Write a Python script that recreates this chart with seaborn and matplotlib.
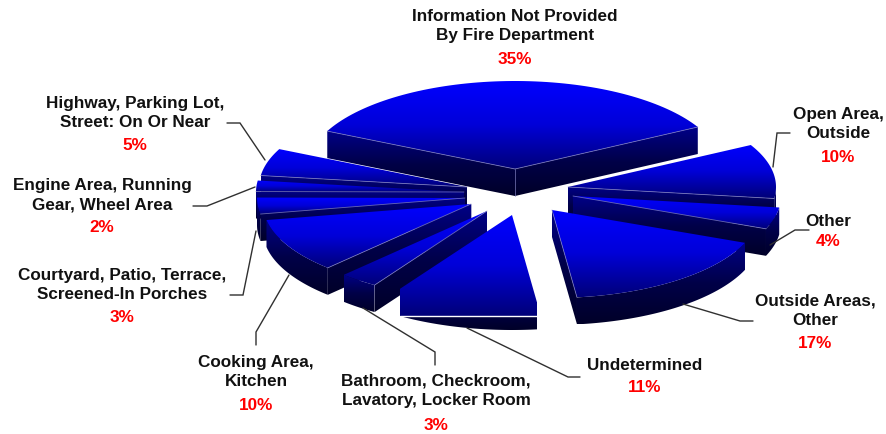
import numpy as np
import matplotlib
matplotlib.use('Agg')
import matplotlib.pyplot as plt
from matplotlib.patches import Polygon
import seaborn as sns

# chart data, clockwise from the big slice
categories = ['Information Not Provided\nBy Fire Department', 'Open Area,\nOutside', 'Other',
              'Outside Areas,\nOther', 'Undetermined', 'Bathroom, Checkroom,\nLavatory, Locker Room',
              'Cooking Area,\nKitchen', 'Courtyard, Patio, Terrace,\nScreened-In Porches',
              'Engine Area, Running\nGear, Wheel Area', 'Highway, Parking Lot,\nStreet: On Or Near']
values = [35, 10, 4, 17, 11, 3, 10, 3, 2, 5]

# layout, in pixels of the 887x434 picture
start_angle = -64.5
rx, ry, depth = 208, 88, 27
center = (515, 192)
explode = [(0, -23), (53, -5), (58, 4), (37, 18), (-3, 23), (-28, 19), (-44, 12), (-50, 6), (-51, 0), (-48, -5)]
draw_order = [0, 9, 1, 8, 2, 7, 6, 3, 5, 4]
label_pos = [(515, 26), (838, 124), (828, 221), (815, 311), (645, 365), (436, 391), (256, 372), (122, 285), (102, 195), (135, 113)]
pct_pos = [(515, 59), (838, 157), (828, 241), (815, 344), (645, 388), (436, 425), (256, 405), (122, 318), (102, 228), (135, 146)]
leaders = [None,
           [(790, 133), (777, 133), (773, 167)],
           [(809, 230), (795, 230), (770, 245)],
           [(753, 321), (740, 321), (683, 304)],
           [(580, 377), (568, 377), (467, 328)],
           [(435, 365), (435, 352), (363, 308)],
           [(256, 345), (256, 332), (289, 275)],
           [(230, 295), (243, 295), (256, 231)],
           [(193, 206), (207, 206), (255, 187)],
           [(227, 123), (240, 123), (265, 160)]]
flat_slice, flat_y = 4, 316

sns.set_theme(style='white')
plt.rcParams['font.family'] = ['Liberation Sans', 'DejaVu Sans']

top_cmap = sns.blend_palette(['#0000ff', '#0000d8', '#000078'], as_cmap=True)
wall_cmap = sns.blend_palette(['#000088', '#000048', '#000028'], as_cmap=True)

fig, ax = plt.subplots(figsize=(8.87, 4.34), dpi=100)
fig.subplots_adjust(left=0, right=1, top=1, bottom=0)
ax.set_xlim(0, 887)
ax.set_ylim(434, 0)
ax.axis('off')


def rim(apex, angles):
    t = np.radians(angles)
    return np.column_stack([apex[0] + rx * np.sin(t), apex[1] - ry * np.cos(t)])


def fill(points, cmap):
    poly = Polygon(points, closed=True, fc='none', ec='none', transform=ax.transData)
    ax.add_patch(poly)
    x0, x1 = points[:, 0].min(), points[:, 0].max()
    y0, y1 = points[:, 1].min(), points[:, 1].max()
    img = ax.imshow(np.linspace(0, 1, 128).reshape(-1, 1), cmap=cmap, vmin=0, vmax=1, aspect='auto',
                    extent=(x0, x1, y1, y0), interpolation='bilinear', zorder=z[0])
    img.set_clip_path(poly)
    z[0] += 1


def extrude(points):
    return np.vstack([points, points[::-1] + (0, depth)])


z = [2]
edges = np.cumsum([0] + values) * 3.6 + start_angle
for i in draw_order:
    a, b = edges[i], edges[i + 1]
    apex = np.array([center[0] + explode[i][0], center[1] + explode[i][1]], dtype=float)
    arc = rim(apex, np.linspace(a, b, 80))

    # radial walls that face the viewer, then the front of the rim
    if np.sin(np.radians(a)) < 0:
        fill(extrude(np.array([apex, arc[0]])), wall_cmap)
    if np.sin(np.radians(b)) > 0:
        fill(extrude(np.array([apex, arc[-1]])), wall_cmap)
    lo, hi = max(a, 90), min(b, 270)
    if lo < hi:
        fill(extrude(rim(apex, np.linspace(lo, hi, 80))), wall_cmap)

    top = np.vstack([apex, arc])
    if i == flat_slice:
        # this slice's top colour runs down past the rim to a straight edge
        top = np.vstack([apex, arc[0], (arc[0, 0], flat_y), (arc[-1, 0], flat_y), arc[-1]])
        ax.plot([arc[-1, 0], arc[0, 0]], [flat_y, flat_y], color='white', lw=1, zorder=50)
    fill(top, top_cmap)

    # thin pale lines where top meets wall
    line_kw = dict(color='#8080c0', lw=0.6, alpha=0.8, zorder=z[0])
    if np.sin(np.radians(a)) < 0:
        ax.plot([apex[0], arc[0, 0]], [apex[1], arc[0, 1]], **line_kw)
    if np.sin(np.radians(b)) > 0:
        ax.plot([apex[0], arc[-1, 0]], [apex[1], arc[-1, 1]], **line_kw)
    if i in (0, 6):
        ax.plot([apex[0], apex[0]], [apex[1], apex[1] + depth], **line_kw)
    z[0] += 1

for path in leaders:
    if path is not None:
        xs, ys = zip(*path)
        ax.plot(xs, ys, color='#303030', lw=1, zorder=60, solid_joinstyle='miter')

for name, v, lp, pp in zip(categories, values, label_pos, pct_pos):
    ax.text(lp[0], lp[1], name, ha='center', va='center', fontsize=12.3, fontweight='bold',
            color='#111111', linespacing=1.38, zorder=70)
    ax.text(pp[0], pp[1], f'{v}%', ha='center', va='center', fontsize=12.3, fontweight='bold',
            color='#ff0000', zorder=70)

ax.set_xlim(0, 887)
ax.set_ylim(434, 0)
fig.savefig('out.png', dpi=100, facecolor='white')
